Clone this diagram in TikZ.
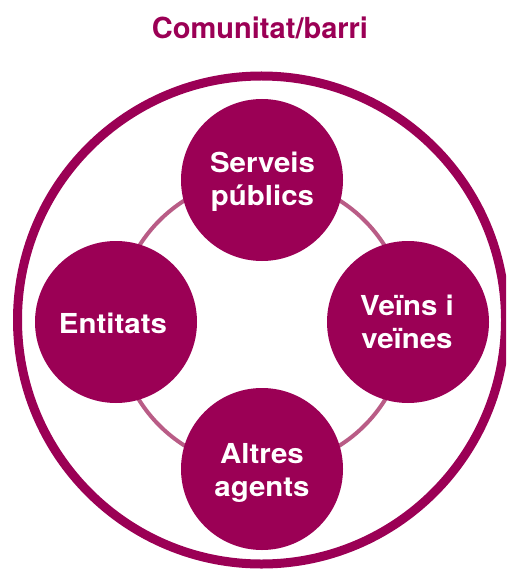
\documentclass[tikz,border=0pt]{standalone}
\usepackage{fontspec}
\setmainfont{TeX Gyre Heros}
\newfontfamily\lblfont[FakeStretch=1.07]{TeX Gyre Heros}
\definecolor{plum}{HTML}{9B0055}
\definecolor{ringpink}{HTML}{B95C86}
\begin{document}
\begin{tikzpicture}[x=1pt,y=-1pt,
  bubble/.style={circle,fill=plum,minimum size=162pt,inner sep=0pt},
  lbl/.style={text=white,font=\lblfont\fontsize{27.5}{33}\selectfont\bfseries,anchor=base,inner sep=0pt},
  ttl/.style={text=plum,font=\fontsize{29}{34}\selectfont\bfseries,anchor=base,inner sep=0pt}]
\useasboundingbox (0,0) rectangle (506,569);
\clip (0,0) rectangle (506,569);
\node[ttl] (title) at (260,39) {Comunitat/barri};
\node[circle,draw=plum,line width=9pt,minimum size=488pt,inner sep=0pt] (outer) at (261.5,320) {};
\node[circle,draw=ringpink,line width=4pt,minimum size=290pt,inner sep=0pt] (ring) at (262,323) {};
\node[bubble] (serveis) at (262,180) {};
\node[bubble] (entitats) at (116,322) {};
\node[bubble] (veins) at (408,322) {};
\node[bubble] (altres) at (262,469) {};
\node[lbl] (serveisA) at (262.5,172.7) {Serveis};
\node[lbl] (serveisB) at (262.5,205.7) {públics};
\node[lbl] (entitatsA) at (113,333.3) {Entitats};
\node[lbl] (veinsA) at (407,315) {Veïns i};
\node[lbl] (veinsB) at (407,348) {veïnes};
\node[lbl] (altresA) at (262,463.3) {Altres};
\node[lbl] (altresB) at (262,496) {agents};
\end{tikzpicture}
\end{document}
